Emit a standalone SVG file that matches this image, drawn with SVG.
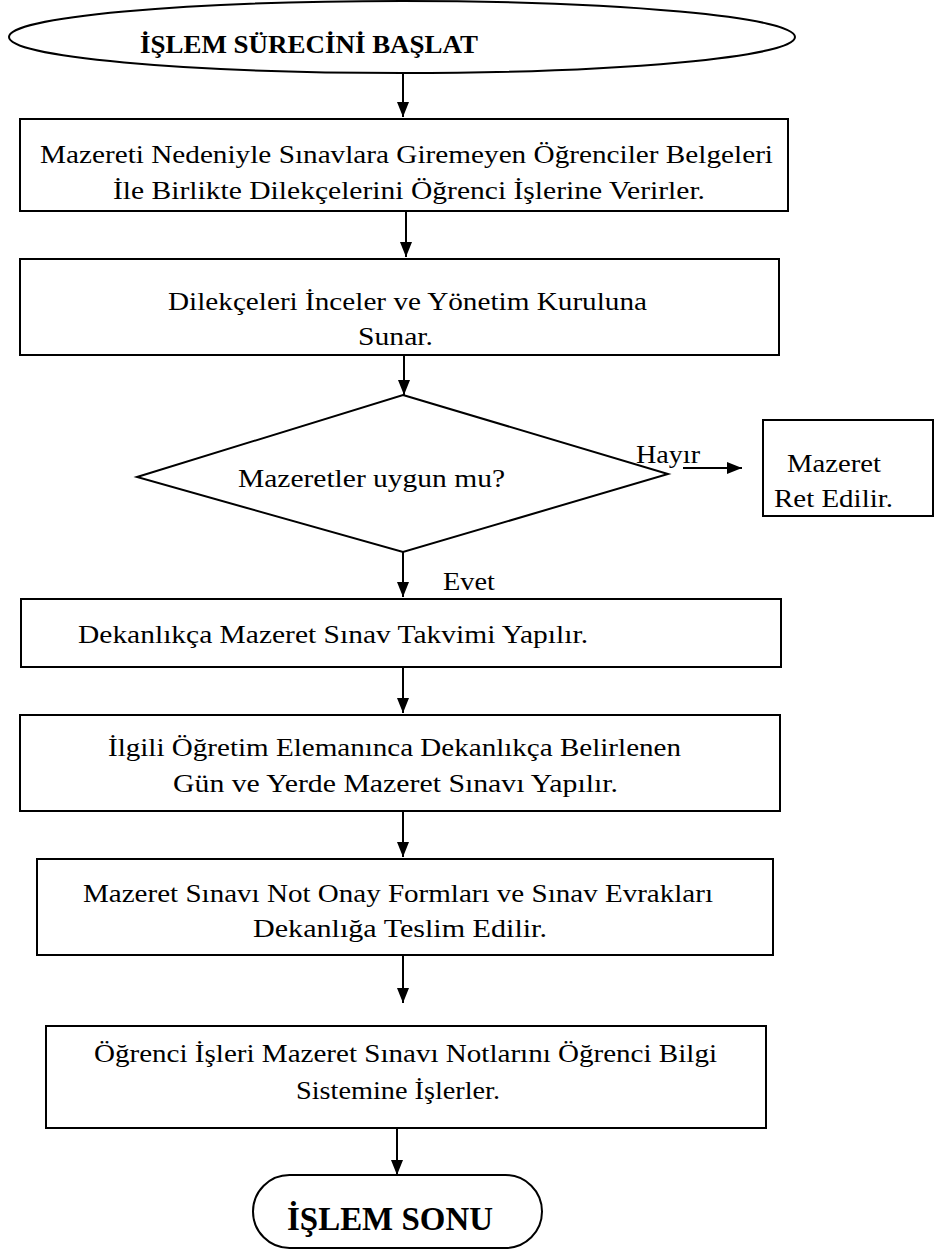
<svg xmlns="http://www.w3.org/2000/svg" width="946" height="1250" viewBox="0 0 946 1250">
<style>
text{font-family:"Liberation Serif","Times New Roman",serif;font-size:26px;fill:#000}
.b{font-weight:bold}
.shape{fill:#fff;stroke:#000;stroke-width:2}
.conn{stroke:#000;stroke-width:2;fill:none}
</style>
<defs>
<marker id="ah" viewBox="0 0 15 12" refX="15" refY="6" markerWidth="15" markerHeight="12" markerUnits="userSpaceOnUse" orient="auto">
<path d="M0,0 L15,6 L0,12 z" fill="#000"/>
</marker>
</defs>
<rect width="946" height="1250" fill="#fff"/>
<g id="connectors">
<line class="conn" x1="403" y1="73" x2="403" y2="117" marker-end="url(#ah)"/>
<line class="conn" x1="406" y1="211" x2="406" y2="257" marker-end="url(#ah)"/>
<line class="conn" x1="404" y1="355" x2="404" y2="395" marker-end="url(#ah)"/>
<line class="conn" x1="403" y1="552" x2="403" y2="597" marker-end="url(#ah)"/>
<line class="conn" x1="403" y1="667" x2="403" y2="713" marker-end="url(#ah)"/>
<line class="conn" x1="403" y1="811" x2="403" y2="857" marker-end="url(#ah)"/>
<line class="conn" x1="403" y1="955" x2="403" y2="1003" marker-end="url(#ah)"/>
<line class="conn" x1="397" y1="1128" x2="397" y2="1175" marker-end="url(#ah)"/>
<line class="conn" x1="683" y1="468" x2="742" y2="468" stroke-width="2.5" marker-end="url(#ah)"/>
<text x="636" y="463" textLength="64" lengthAdjust="spacingAndGlyphs">Hayır</text>
<text x="443" y="590" textLength="52" lengthAdjust="spacingAndGlyphs">Evet</text>
</g>
<g id="start">
<ellipse class="shape" cx="402" cy="37" rx="393" ry="36"/>
<text class="b" x="140" y="53" textLength="338" lengthAdjust="spacingAndGlyphs">İŞLEM  SÜRECİNİ  BAŞLAT</text>
</g>
<g id="n1">
<rect class="shape" x="20" y="119" width="768" height="92"/>
<text x="40" y="163" textLength="733" lengthAdjust="spacingAndGlyphs">Mazereti Nedeniyle Sınavlara Giremeyen Öğrenciler Belgeleri</text>
<text x="113" y="199" textLength="592" lengthAdjust="spacingAndGlyphs">İle Birlikte Dilekçelerini Öğrenci İşlerine Verirler.</text>
</g>
<g id="n2">
<rect class="shape" x="20" y="259" width="759" height="96"/>
<text x="168" y="310" textLength="479" lengthAdjust="spacingAndGlyphs">Dilekçeleri İnceler ve Yönetim Kuruluna</text>
<text x="358" y="345" textLength="75" lengthAdjust="spacingAndGlyphs">Sunar.</text>
</g>
<g id="decision">
<polygon class="shape" points="403,395 668,474 403,552 137,477"/>
<text x="238" y="487" textLength="267" lengthAdjust="spacingAndGlyphs">Mazeretler uygun mu?</text>
</g>
<g id="reject">
<rect class="shape" x="763" y="420" width="170" height="96"/>
<text x="787" y="472" textLength="94" lengthAdjust="spacingAndGlyphs">Mazeret</text>
<text x="774" y="507" textLength="119" lengthAdjust="spacingAndGlyphs">Ret Edilir.</text>
</g>
<g id="n3">
<rect class="shape" x="21" y="599" width="760" height="68"/>
<text x="78" y="643" textLength="510" lengthAdjust="spacingAndGlyphs">Dekanlıkça Mazeret Sınav Takvimi Yapılır.</text>
</g>
<g id="n4">
<rect class="shape" x="20" y="715" width="760" height="96"/>
<text x="108" y="756" textLength="573" lengthAdjust="spacingAndGlyphs">İlgili Öğretim Elemanınca Dekanlıkça Belirlenen</text>
<text x="173" y="792" textLength="445" lengthAdjust="spacingAndGlyphs">Gün ve Yerde Mazeret Sınavı Yapılır.</text>
</g>
<g id="n5">
<rect class="shape" x="37" y="859" width="736" height="96"/>
<text x="83" y="902" textLength="630" lengthAdjust="spacingAndGlyphs">Mazeret Sınavı Not Onay Formları ve Sınav Evrakları</text>
<text x="253" y="937" textLength="294" lengthAdjust="spacingAndGlyphs">Dekanlığa  Teslim Edilir.</text>
</g>
<g id="n6">
<rect class="shape" x="46" y="1026" width="720" height="102"/>
<text x="94" y="1062" textLength="623" lengthAdjust="spacingAndGlyphs">Öğrenci İşleri Mazeret Sınavı Notlarını Öğrenci Bilgi</text>
<text x="296" y="1099" textLength="204" lengthAdjust="spacingAndGlyphs">Sistemine İşlerler.</text>
</g>
<g id="end">
<rect class="shape" x="253" y="1175" width="289" height="73" rx="36.5" ry="36.5"/>
<text class="b" x="287" y="1230" style="font-size:34px" textLength="206" lengthAdjust="spacingAndGlyphs">İŞLEM SONU</text>
</g>
</svg>
